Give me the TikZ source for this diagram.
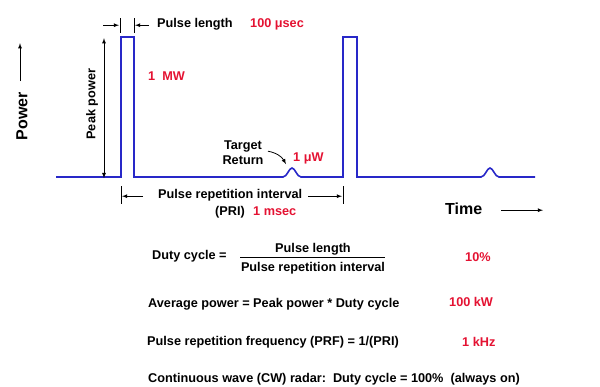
\documentclass[tikz,border=0pt]{standalone}
\usepackage{fontspec}
\setmainfont{Liberation Sans}
\usetikzlibrary{arrows}
\definecolor{pulseblue}{RGB}{40,40,200}
\definecolor{valred}{RGB}{228,18,50}
\tikzstyle{every node}=[font=\bfseries\fontsize{12.7}{15}\selectfont,inner sep=0pt,anchor=mid west,yshift=-1.2pt]
\tikzstyle{value}=[text=valred]
\tikzstyle{big}=[font=\bfseries\fontsize{16}{18}\selectfont]
\tikzstyle{dim}=[-latex,line width=0.8pt]
\tikzstyle{tick}=[line width=0.8pt]

\begin{document}
\begin{tikzpicture}[x=1pt,y=-1pt]
  \useasboundingbox (0,0) rectangle (600,387);
  % waveform
  \draw[pulseblue,line width=1.6pt,line join=miter]
    (56,177) -- (121,177) -- (121,37) -- (134,37) -- (134,177) -- (283,177)
    .. controls (287,177) and (289,168) .. (292,168)
    .. controls (295,168) and (297,177) .. (301,177)
    -- (343,177) -- (343,37) -- (357,37) -- (357,177) -- (481,177)
    .. controls (485,177) and (487,168) .. (490,168)
    .. controls (493,168) and (495,177) .. (499,177) -- (535,177);
  % axes labels
  \node[big,rotate=90,anchor=center,yshift=0pt] (power) at (22,115) {Power};
  \coordinate (powA) at (20,80);
  \coordinate (powB) at (20,42);
  \draw[dim] (powA) -- (powB);
  \node[big] (time) at (445,211) {Time};
  \coordinate (timeA) at (501,209);
  \coordinate (timeB) at (543,209);
  \draw[dim] (timeA) -- (timeB);
  % pulse length
  \coordinate (plT1) at (120,17);
  \coordinate (plB1) at (120,32);
  \coordinate (plT2) at (134,17);
  \coordinate (plB2) at (134,32);
  \draw[tick] (plT1) -- (plB1);
  \draw[tick] (plT2) -- (plB2);
  \coordinate (plA) at (103,24);
  \coordinate (plB) at (119,24);
  \coordinate (plC) at (149,24);
  \coordinate (plD) at (135,24);
  \draw[dim] (plA) -- (plB);
  \draw[dim] (plC) -- (plD);
  \node (pl) at (157,24) {Pulse length};
  \node[value] (plv) at (250,24) {100 μsec};
  % peak power
  \coordinate (ppT) at (104,37);
  \coordinate (ppB) at (104,177);
  \draw[latex-latex,line width=0.8pt] (ppT) -- (ppB);
  \node[rotate=90,anchor=center,yshift=0pt] (pp) at (92,103) {Peak power};
  \node[value] (mw) at (148,77) {1\ \ MW};
  % target return
  \node[align=center,anchor=center,yshift=0pt] (tr) at (243,151) {Target\\Return};
  \coordinate (trA) at (268,150);
  \coordinate (trB) at (286,163);
  \draw[-latex,line width=0.8pt] (trA) to[bend left=25] (trB);
  \node[value] (uw) at (293,158) {1 μW};
  % pulse repetition interval
  \coordinate (priT1) at (121,185);
  \coordinate (priB1) at (121,203);
  \coordinate (priT2) at (343,185);
  \coordinate (priB2) at (343,203);
  \draw[tick] (priT1) -- (priB1);
  \draw[tick] (priT2) -- (priB2);
  \coordinate (priA) at (143,195);
  \coordinate (priB) at (122,195);
  \coordinate (priC) at (308,195);
  \coordinate (priD) at (342,195);
  \draw[dim] (priA) -- (priB);
  \draw[dim] (priC) -- (priD);
  \node (pri) at (158,195) {Pulse repetition interval};
  \node (prish) at (215,212) {(PRI)};
  \node[value] (priv) at (253,212) {1 msec};
  % formulas
  \node (dc) at (152,256) {Duty cycle =};
  \node[anchor=center] (num) at (313,248) {Pulse length};
  \node[anchor=center] (den) at (313,267) {Pulse repetition interval};
  \coordinate (fracA) at (240,256);
  \coordinate (fracB) at (385,256);
  \draw[line width=0.6pt] (fracA) -- (fracB);
  \node[value] (dcv) at (465,258) {10\%};
  \node (avg) at (148,304) {Average power = Peak power * Duty cycle};
  \node[value] (avgv) at (449,303) {100 kW};
  \node (prf) at (147,342) {Pulse repetition frequency (PRF) = 1/(PRI)};
  \node[value] (prfv) at (462,343) {1 kHz};
  \node (cw) at (148,379) {Continuous wave (CW) radar:\ \ Duty cycle = 100\%\ \ (always on)};
\end{tikzpicture}
\end{document}
